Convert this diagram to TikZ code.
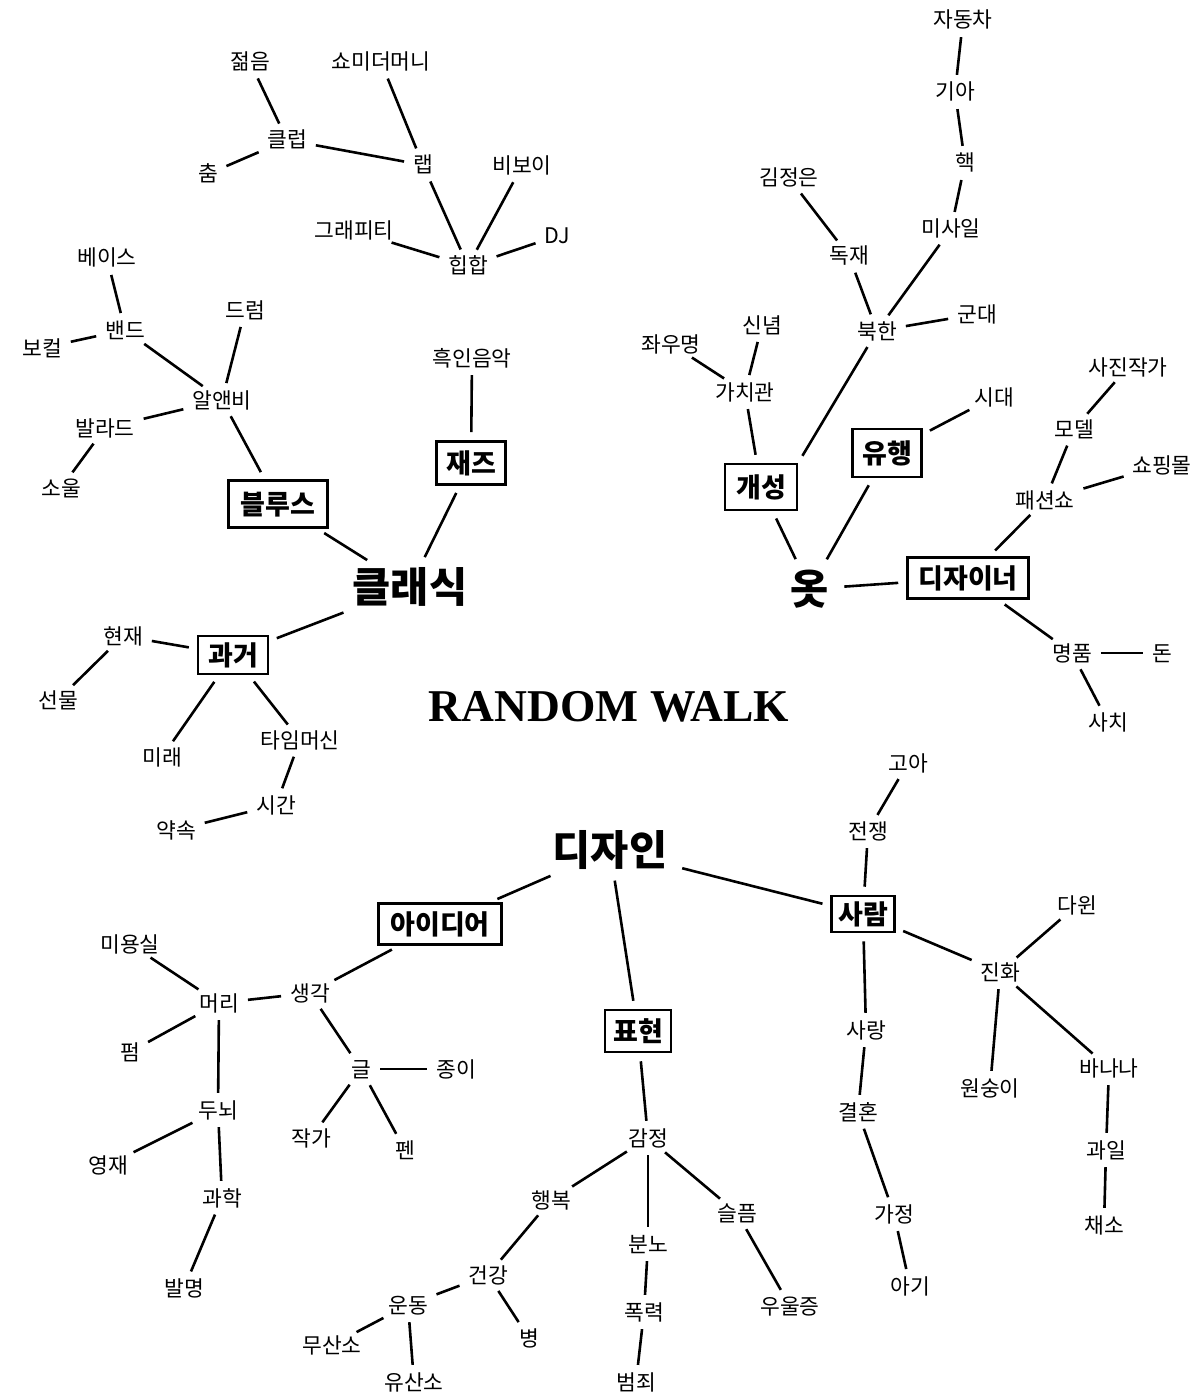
\documentclass[tikz,border=0pt]{standalone}
\usepackage{fontspec}
\setmainfont{Noto Sans CJK KR}
\newfontfamily\titlefont{Liberation Serif}
\begin{document}
\begin{tikzpicture}[x=1pt,y=-1pt,
  w/.style={font=\fontsize{21.5}{26}\selectfont, inner sep=1pt, text height=16pt, text depth=0pt},
  bx/.style={draw, line width=2.6pt, font=\bfseries\fontsize{27}{32}\selectfont, inner sep=0pt, text height=20pt, text depth=0pt},
  big/.style={font=\bfseries\fontsize{41.5}{48}\selectfont, inner sep=7pt, text height=31pt, text depth=0pt},
  ln/.style={line width=2.6pt, shorten <=8pt, shorten >=8pt}]
\path[use as bounding box] (0,0) rectangle (1191,1396);
% ---------- top-left ----------
\node[w] (jeolm) at (250,62) {젊음};
\node[w] (show) at (381,62) {쇼미더머니};
\node[w] (club) at (287,140) {클럽};
\node[w] (chum) at (208,174) {춤};
\node[w] (rap) at (423,165) {랩};
\node[w] (bboy) at (522,166) {비보이};
\node[w] (graf) at (354,231) {그래피티};
\node[w] (hiphop) at (468,266) {힙합};
\node[w] (dj) at (557,236) {DJ};
\node[w] (bass) at (107,258) {베이스};
\node[w] (drum) at (245,310) {드럼};
\node[w] (band) at (125,330) {밴드};
\node[w] (vocal) at (42,348) {보컬};
\node[w] (black) at (472,358) {흑인음악};
\node[w] (rnb) at (222,400) {알앤비};
\node[w] (ballad) at (105,428) {발라드};
\node[w] (soul) at (61,488) {소울};
\node[bx, minimum width=99pt, minimum height=47pt] (blues) at (278,504) {블루스};
\node[bx, minimum width=69pt, minimum height=43pt] (jazz) at (471,463) {재즈};
\node[big] (classic) at (410,587) {클래식};
\node[bx, minimum width=70pt, minimum height=38pt] (past) at (233,655) {과거};
\node[w] (present) at (123,636) {현재};
\node[w] (gift) at (58,700) {선물};
\node[w] (future) at (162,757) {미래};
\node[w] (tm) at (300,740) {타임머신};
\node[w] (time) at (276,805) {시간};
\node[w] (promise) at (176,830) {약속};
% ---------- top-right ----------
\node[w] (car) at (963,20) {자동차};
\node[w] (kia) at (955,92) {기아};
\node[w] (nuke) at (965,163) {핵};
\node[w] (kim) at (789,178) {김정은};
\node[w] (missile) at (951,229) {미사일};
\node[w] (dict) at (849,256) {독재};
\node[w] (army) at (977,314) {군대};
\node[w] (nk) at (877,331) {북한};
\node[w] (belief) at (762,325) {신념};
\node[w] (motto) at (671,344) {좌우명};
\node[w] (values) at (745,392) {가치관};
\node[w] (era) at (994,397) {시대};
\node[w] (photo) at (1128,367) {사진작가};
\node[w] (model) at (1074,429) {모델};
\node[w] (mall) at (1162,465) {쇼핑몰};
\node[w] (fshow) at (1045,500) {패션쇼};
\node[bx, minimum width=69pt, minimum height=48pt] (trend) at (887,453) {유행};
\node[bx, minimum width=72pt, minimum height=46pt] (indiv) at (761,487) {개성};
\node[big] (clothes) at (810,589) {옷};
\node[bx, minimum width=121pt, minimum height=41pt] (designer) at (968,578) {디자이너};
\node[w] (luxury) at (1072,653) {명품};
\node[w] (money) at (1162,653) {돈};
\node[w] (extrav) at (1108,722) {사치};
% ---------- title ----------
\node[font=\titlefont\bfseries\fontsize{45.5}{52}\selectfont, inner sep=0pt] (title) at (609,707) {RANDOM WALK};
% ---------- bottom ----------
\node[big] (design) at (610,850) {디자인};
\node[w] (orphan) at (908,763) {고아};
\node[w] (war) at (868,831) {전쟁};
\node[bx, minimum width=63pt, minimum height=36pt] (person) at (863,914) {사람};
\node[bx, minimum width=123pt, minimum height=41pt] (idea) at (440,924) {아이디어};
\node[w] (darwin) at (1077,905) {다윈};
\node[w] (salon) at (130,944) {미용실};
\node[w] (evol) at (1000,972) {진화};
\node[w] (hair) at (219,1003) {머리};
\node[w] (thought) at (310,993) {생각};
\node[bx, minimum width=66pt, minimum height=42pt] (expr) at (638,1031) {표현};
\node[w] (love) at (866,1030) {사랑};
\node[w] (perm) at (130,1052) {펌};
\node[w] (writing) at (361,1069) {글};
\node[w] (paper) at (456,1069) {종이};
\node[w] (monkey) at (990,1088) {원숭이};
\node[w] (banana) at (1109,1068) {바나나};
\node[w] (marriage) at (858,1112) {결혼};
\node[w] (brain) at (218,1110) {두뇌};
\node[w] (writer) at (311,1138) {작가};
\node[w] (pen) at (405,1150) {펜};
\node[w] (emotion) at (648,1138) {감정};
\node[w] (fruit) at (1106,1150) {과일};
\node[w] (genius) at (108,1165) {영재};
\node[w] (science) at (222,1198) {과학};
\node[w] (happy) at (551,1200) {행복};
\node[w] (sad) at (737,1213) {슬픔};
\node[w] (home) at (894,1214) {가정};
\node[w] (veg) at (1104,1225) {채소};
\node[w] (anger) at (648,1244) {분노};
\node[w] (health) at (488,1275) {건강};
\node[w] (invent) at (184,1288) {발명};
\node[w] (baby) at (910,1286) {아기};
\node[w] (exercise) at (408,1305) {운동};
\node[w] (violence) at (644,1312) {폭력};
\node[w] (depress) at (790,1306) {우울증};
\node[w] (disease) at (529,1338) {병};
\node[w] (anaer) at (332,1345) {무산소};
\node[w] (aer) at (414,1382) {유산소};
\node[w] (crime) at (636,1382) {범죄};
% ---------- connectors ----------
\draw[ln] (jeolm) -- (club);
\draw[ln] (show) -- (rap);
\draw[ln] (club) -- (chum);
\draw[ln] (club) -- (rap);
\draw[ln] (rap) -- (hiphop);
\draw[ln] (bboy) -- (hiphop);
\draw[ln] (graf) -- (hiphop);
\draw[ln] (dj) -- (hiphop);
\draw[ln] (bass) -- (band);
\draw[ln] (band) -- (vocal);
\draw[ln] (band) -- (rnb);
\draw[ln] (drum) -- (rnb);
\draw[ln] (rnb) -- (ballad);
\draw[ln] (ballad) -- (soul);
\draw[ln] (rnb) -- (blues);
\draw[ln] (black) -- (jazz);
\draw[ln] (blues) -- (classic);
\draw[ln] (jazz) -- (classic);
\draw[ln] (classic) -- (past);
\draw[ln] (present) -- (past);
\draw[ln] (present) -- (gift);
\draw[ln] (past) -- (future);
\draw[ln] (past) -- (tm);
\draw[ln] (tm) -- (time);
\draw[ln] (time) -- (promise);
\draw[ln] (car) -- (kia);
\draw[ln] (kia) -- (nuke);
\draw[ln] (nuke) -- (missile);
\draw[ln] (kim) -- (dict);
\draw[ln] (dict) -- (nk);
\draw[ln] (missile) -- (nk);
\draw[ln] (nk) -- (army);
\draw[ln] (nk) -- (indiv.north east);
\draw[ln] (motto) -- (values);
\draw[ln] (belief) -- (values);
\draw[ln] (values) -- (indiv);
\draw[ln] (trend) -- (era);
\draw[ln] (trend) -- (clothes);
\draw[ln] (indiv) -- (clothes);
\draw[ln] (clothes) -- (designer);
\draw[ln] (designer) -- (fshow);
\draw[ln] (fshow) -- (model);
\draw[ln] (model) -- (photo);
\draw[ln] (fshow) -- (mall);
\draw[ln] (designer) -- (luxury);
\draw[ln] (luxury) -- (money);
\draw[ln] (luxury) -- (extrav);
\draw[ln] (design) -- (idea);
\draw[ln] (design) -- (expr);
\draw[ln] (design) -- (person);
\draw[ln] (person) -- (war);
\draw[ln] (war) -- (orphan);
\draw[ln] (person) -- (love);
\draw[ln] (person) -- (evol);
\draw[ln] (evol) -- (darwin);
\draw[ln] (evol) -- (monkey);
\draw[ln] (evol) -- (banana);
\draw[ln] (banana) -- (fruit);
\draw[ln] (fruit) -- (veg);
\draw[ln] (love) -- (marriage);
\draw[ln] (marriage) -- (home);
\draw[ln] (home) -- (baby);
\draw[ln] (idea) -- (thought);
\draw[ln] (thought) -- (hair);
\draw[ln] (hair) -- (salon);
\draw[ln] (hair) -- (perm);
\draw[ln] (hair) -- (brain);
\draw[ln] (brain) -- (genius);
\draw[ln] (brain) -- (science);
\draw[ln] (science) -- (invent);
\draw[ln] (thought) -- (writing);
\draw[ln] (writing) -- (paper);
\draw[ln] (writing) -- (writer);
\draw[ln] (writing) -- (pen);
\draw[ln] (expr) -- (emotion);
\draw[ln] (emotion) -- (happy);
\draw[ln] (emotion) -- (anger);
\draw[ln] (emotion) -- (sad);
\draw[ln] (anger) -- (violence);
\draw[ln] (violence) -- (crime);
\draw[ln] (sad) -- (depress);
\draw[ln] (happy) -- (health);
\draw[ln] (health) -- (exercise);
\draw[ln] (health) -- (disease);
\draw[ln] (exercise) -- (anaer);
\draw[ln] (exercise) -- (aer);
\end{tikzpicture}
\end{document}
